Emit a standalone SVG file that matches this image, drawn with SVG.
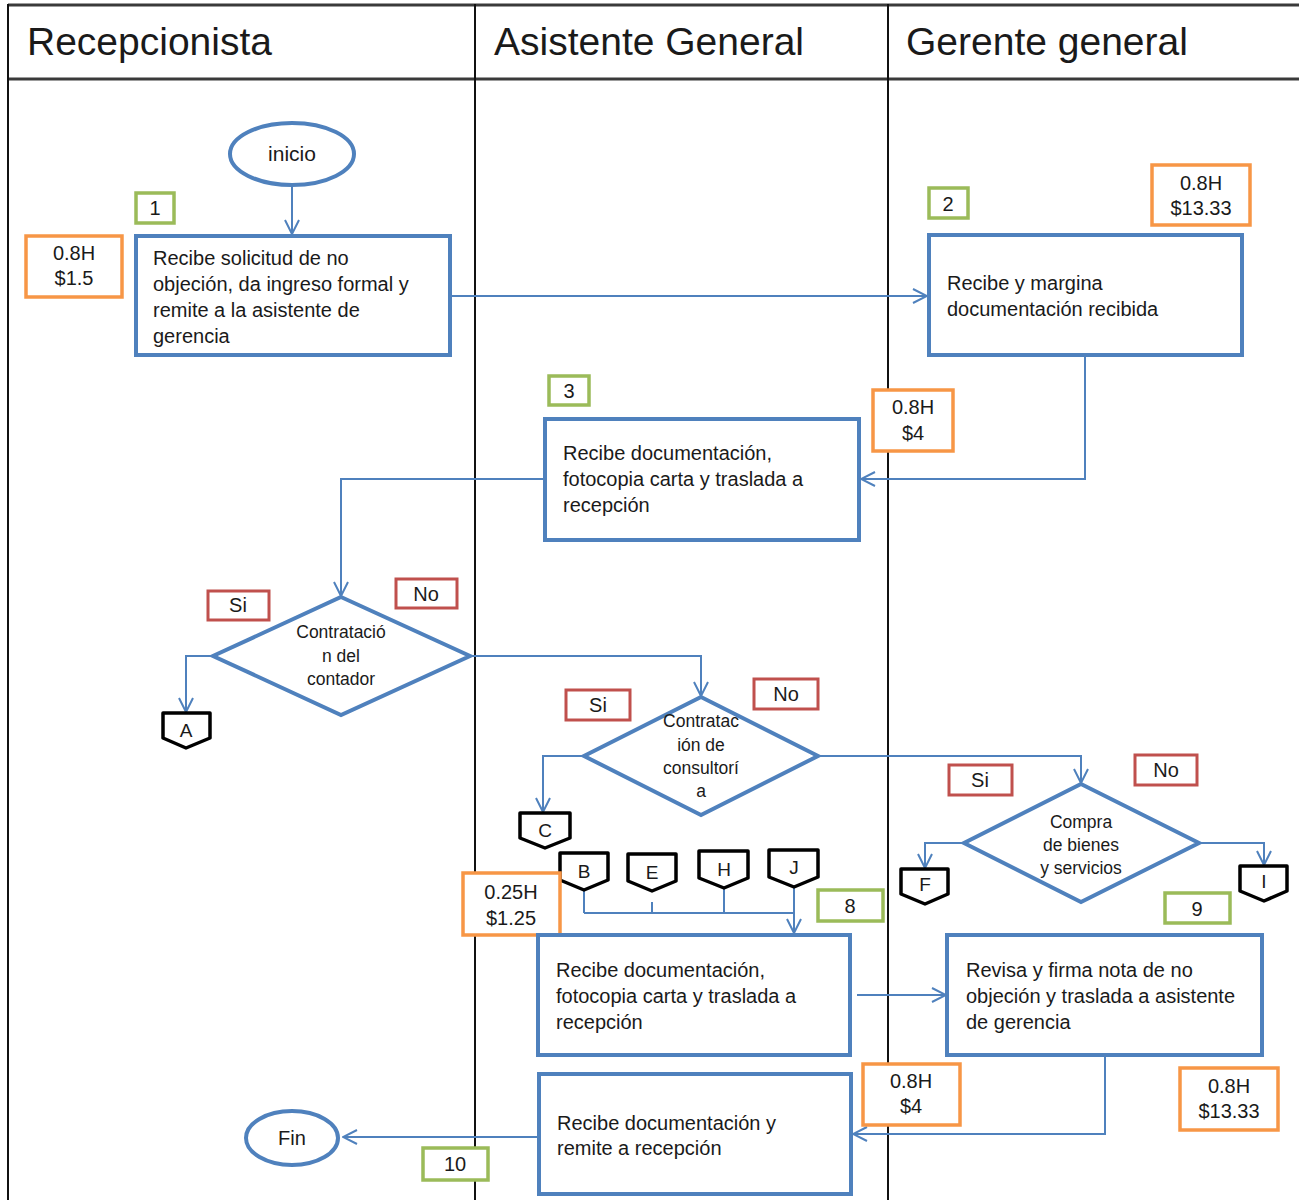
<svg xmlns="http://www.w3.org/2000/svg" width="1299" height="1200" viewBox="0 0 1299 1200">
  <defs>
    <style>
      text { font-family: "Liberation Sans", Arial, sans-serif; fill: #1a1a1a; }
      .lane { stroke: #111; stroke-width: 2; fill: none; }
      .hline { stroke: #3a3a3a; stroke-width: 3; fill: none; }
      .head { font-size: 39px; }
      .proc { fill: #fff; stroke: #4F81BD; stroke-width: 4; }
      .term { fill: #fff; stroke: #4F81BD; stroke-width: 4; }
      .dec { fill: #fff; stroke: #4F81BD; stroke-width: 4; stroke-linejoin: miter; }
      .ptxt { font-size: 20px; }
      .dtxt { font-size: 17.5px; text-anchor: middle; }
      .num { fill: #fff; stroke: #9BBB59; stroke-width: 3.5; }
      .cost { fill: #fff; stroke: #F79646; stroke-width: 3.5; }
      .ans { fill: #fff; stroke: #C0504D; stroke-width: 3; }
      .ltxt { font-size: 20px; text-anchor: middle; }
      .opc { fill: #fff; stroke: #000; stroke-width: 3.5; stroke-linejoin: round; }
      .otxt { font-size: 19px; text-anchor: middle; }
      .edge { stroke: #4F81BD; stroke-width: 2; fill: none; }
      .arr { marker-end: url(#arrow); }
    </style>
    <marker id="arrow" viewBox="0 0 16 16" refX="15" refY="8" markerWidth="16" markerHeight="16" markerUnits="userSpaceOnUse" orient="auto">
      <path d="M1,1 L15,8 L1,15" fill="none" stroke="#4F81BD" stroke-width="2"/>
    </marker>
  </defs>

  <rect x="0" y="0" width="1299" height="1200" fill="#fff"/>

  <!-- swimlane frame -->
  <g id="lanes">
    <line class="hline" x1="8" y1="5" x2="1299" y2="5"/>
    <line class="hline" x1="8" y1="79" x2="1299" y2="79"/>
    <line class="lane" x1="8" y1="4" x2="8" y2="1200"/>
    <line class="lane" x1="475" y1="4" x2="475" y2="1200"/>
    <line class="lane" x1="888" y1="4" x2="888" y2="1200"/>
    <text class="head" x="27" y="55">Recepcionista</text>
    <text class="head" x="494" y="55">Asistente General</text>
    <text class="head" x="906" y="55">Gerente general</text>
  </g>

  <!-- connectors -->
  <g id="connectors">
    <line class="edge arr" x1="292" y1="185" x2="292" y2="234"/>
    <line class="edge arr" x1="450" y1="296" x2="927" y2="296"/>
    <polyline class="edge arr" points="1085,355 1085,479 861,479"/>
    <polyline class="edge arr" points="545,479 341,479 341,596"/>
    <polyline class="edge arr" points="213,656 186,656 186,712"/>
    <polyline class="edge arr" points="470,656 701,656 701,696"/>
    <polyline class="edge arr" points="584,756 543,756 543,812"/>
    <polyline class="edge arr" points="818,756 1081,756 1081,783"/>
    <polyline class="edge arr" points="964,843 925,843 925,868"/>
    <polyline class="edge arr" points="1199,843 1264,843 1264,865"/>
    <line class="edge" x1="584" y1="890" x2="584" y2="913"/>
    <line class="edge" x1="652" y1="902" x2="652" y2="913"/>
    <line class="edge" x1="724" y1="888" x2="724" y2="913"/>
    <line class="edge" x1="584" y1="913" x2="794" y2="913"/>
    <line class="edge arr" x1="794" y1="887" x2="794" y2="933"/>
    <line class="edge arr" x1="857" y1="995" x2="946" y2="995"/>
    <polyline class="edge arr" points="1105,1055 1105,1134 853,1134"/>
    <line class="edge arr" x1="539" y1="1137" x2="343" y2="1137"/>
  </g>

  <!-- start / end -->
  <g id="inicio">
    <ellipse class="term" cx="292" cy="154" rx="62" ry="31"/>
    <text class="ltxt" x="292" y="161" style="font-size:21px">inicio</text>
  </g>
  <g id="fin">
    <ellipse class="term" cx="292" cy="1138" rx="46" ry="27"/>
    <text class="ltxt" x="292" y="1145" style="font-size:20px">Fin</text>
  </g>

  <!-- step 1 -->
  <g id="step1">
    <rect class="num" x="136" y="193" width="38" height="30"/>
    <text class="ltxt" x="155" y="215">1</text>
    <rect class="cost" x="26" y="236" width="96" height="61"/>
    <text class="ltxt" x="74" y="260">0.8H</text>
    <text class="ltxt" x="74" y="285">$1.5</text>
    <rect class="proc" x="136" y="236" width="314" height="119"/>
    <text class="ptxt" x="153" y="265">Recibe solicitud de no</text>
    <text class="ptxt" x="153" y="291">objeción, da ingreso formal y</text>
    <text class="ptxt" x="153" y="317">remite a la asistente de</text>
    <text class="ptxt" x="153" y="343">gerencia</text>
  </g>

  <!-- step 2 -->
  <g id="step2">
    <rect class="num" x="929" y="188" width="39" height="30"/>
    <text class="ltxt" x="948" y="211">2</text>
    <rect class="cost" x="1152" y="165" width="98" height="60"/>
    <text class="ltxt" x="1201" y="190">0.8H</text>
    <text class="ltxt" x="1201" y="215">$13.33</text>
    <rect class="proc" x="929" y="235" width="313" height="120"/>
    <text class="ptxt" x="947" y="290">Recibe y margina</text>
    <text class="ptxt" x="947" y="316">documentación recibida</text>
  </g>

  <!-- step 3 -->
  <g id="step3">
    <rect class="num" x="549" y="376" width="40" height="29"/>
    <text class="ltxt" x="569" y="398">3</text>
    <rect class="cost" x="873" y="390" width="80" height="61"/>
    <text class="ltxt" x="913" y="414">0.8H</text>
    <text class="ltxt" x="913" y="440">$4</text>
    <rect class="proc" x="545" y="419" width="314" height="121"/>
    <text class="ptxt" x="563" y="460">Recibe documentación,</text>
    <text class="ptxt" x="563" y="486">fotocopia carta y traslada a</text>
    <text class="ptxt" x="563" y="512">recepción</text>
  </g>

  <!-- decision: contador -->
  <g id="dec-contador">
    <polygon class="dec" points="341,597 470,656 341,715 213,656"/>
    <text class="dtxt" x="341" y="638">Contratació</text>
    <text class="dtxt" x="341" y="662">n del</text>
    <text class="dtxt" x="341" y="685">contador</text>
    <rect class="ans" x="208" y="591" width="61" height="29"/>
    <text class="ltxt" x="238" y="612">Si</text>
    <rect class="ans" x="396" y="579" width="61" height="29"/>
    <text class="ltxt" x="426" y="601">No</text>
  </g>

  <!-- decision: consultoria -->
  <g id="dec-consultoria">
    <polygon class="dec" points="701,697 818,756 701,815 584,756"/>
    <text class="dtxt" x="701" y="727">Contratac</text>
    <text class="dtxt" x="701" y="751">ión de</text>
    <text class="dtxt" x="701" y="774">consultorí</text>
    <text class="dtxt" x="701" y="797">a</text>
    <rect class="ans" x="566" y="690" width="64" height="30"/>
    <text class="ltxt" x="598" y="712">Si</text>
    <rect class="ans" x="754" y="679" width="64" height="30"/>
    <text class="ltxt" x="786" y="701">No</text>
  </g>

  <!-- decision: compras -->
  <g id="dec-compras">
    <polygon class="dec" points="1081,784 1199,843 1081,902 964,843"/>
    <text class="dtxt" x="1081" y="828">Compra</text>
    <text class="dtxt" x="1081" y="851">de bienes</text>
    <text class="dtxt" x="1081" y="874">y servicios</text>
    <rect class="ans" x="949" y="765" width="63" height="30"/>
    <text class="ltxt" x="980" y="787">Si</text>
    <rect class="ans" x="1135" y="755" width="62" height="30"/>
    <text class="ltxt" x="1166" y="777">No</text>
  </g>

  <!-- off-page connectors -->
  <g id="off-A">
    <polygon class="opc" points="163,713 210,713 210,738 186,748 163,738"/>
    <text class="otxt" x="186" y="737">A</text>
  </g>
  <g id="off-C">
    <polygon class="opc" points="520,813 570,813 570,838 545,848 520,838"/>
    <text class="otxt" x="545" y="837">C</text>
  </g>
  <g id="off-B">
    <polygon class="opc" points="560,853 608,853 608,880 584,890 560,880"/>
    <text class="otxt" x="584" y="878">B</text>
  </g>
  <g id="off-E">
    <polygon class="opc" points="628,854 676,854 676,881 652,891 628,881"/>
    <text class="otxt" x="652" y="879">E</text>
  </g>
  <g id="off-H">
    <polygon class="opc" points="699,851 748,851 748,878 724,888 699,878"/>
    <text class="otxt" x="724" y="876">H</text>
  </g>
  <g id="off-J">
    <polygon class="opc" points="769,850 818,850 818,877 794,887 769,877"/>
    <text class="otxt" x="794" y="874">J</text>
  </g>
  <g id="off-F">
    <polygon class="opc" points="901,869 948,869 948,894 925,904 901,894"/>
    <text class="otxt" x="925" y="891">F</text>
  </g>
  <g id="off-I">
    <polygon class="opc" points="1240,866 1287,866 1287,891 1264,901 1240,891"/>
    <text class="otxt" x="1264" y="888">I</text>
  </g>

  <!-- step 8 -->
  <g id="step8">
    <rect class="num" x="818" y="890" width="65" height="31"/>
    <text class="ltxt" x="850" y="913">8</text>
    <rect class="cost" x="463" y="873" width="97" height="62"/>
    <text class="ltxt" x="511" y="899">0.25H</text>
    <text class="ltxt" x="511" y="925">$1.25</text>
    <rect class="proc" x="538" y="935" width="312" height="120"/>
    <text class="ptxt" x="556" y="977">Recibe documentación,</text>
    <text class="ptxt" x="556" y="1003">fotocopia carta y traslada a</text>
    <text class="ptxt" x="556" y="1029">recepción</text>
  </g>

  <!-- step 9 -->
  <g id="step9">
    <rect class="num" x="1165" y="893" width="65" height="30"/>
    <text class="ltxt" x="1197" y="916">9</text>
    <rect class="proc" x="947" y="935" width="315" height="120"/>
    <text class="ptxt" x="966" y="977">Revisa y firma nota de no</text>
    <text class="ptxt" x="966" y="1003">objeción y traslada a asistente</text>
    <text class="ptxt" x="966" y="1029">de gerencia</text>
    <rect class="cost" x="1180" y="1068" width="98" height="62"/>
    <text class="ltxt" x="1229" y="1093">0.8H</text>
    <text class="ltxt" x="1229" y="1118">$13.33</text>
  </g>

  <!-- step 10 -->
  <g id="step10">
    <rect class="cost" x="863" y="1064" width="97" height="61"/>
    <text class="ltxt" x="911" y="1088">0.8H</text>
    <text class="ltxt" x="911" y="1113">$4</text>
    <rect class="proc" x="539" y="1074" width="312" height="120"/>
    <text class="ptxt" x="557" y="1130">Recibe documentación y</text>
    <text class="ptxt" x="557" y="1155">remite a recepción</text>
    <rect class="num" x="423" y="1148" width="65" height="32"/>
    <text class="ltxt" x="455" y="1171">10</text>
  </g>
</svg>
